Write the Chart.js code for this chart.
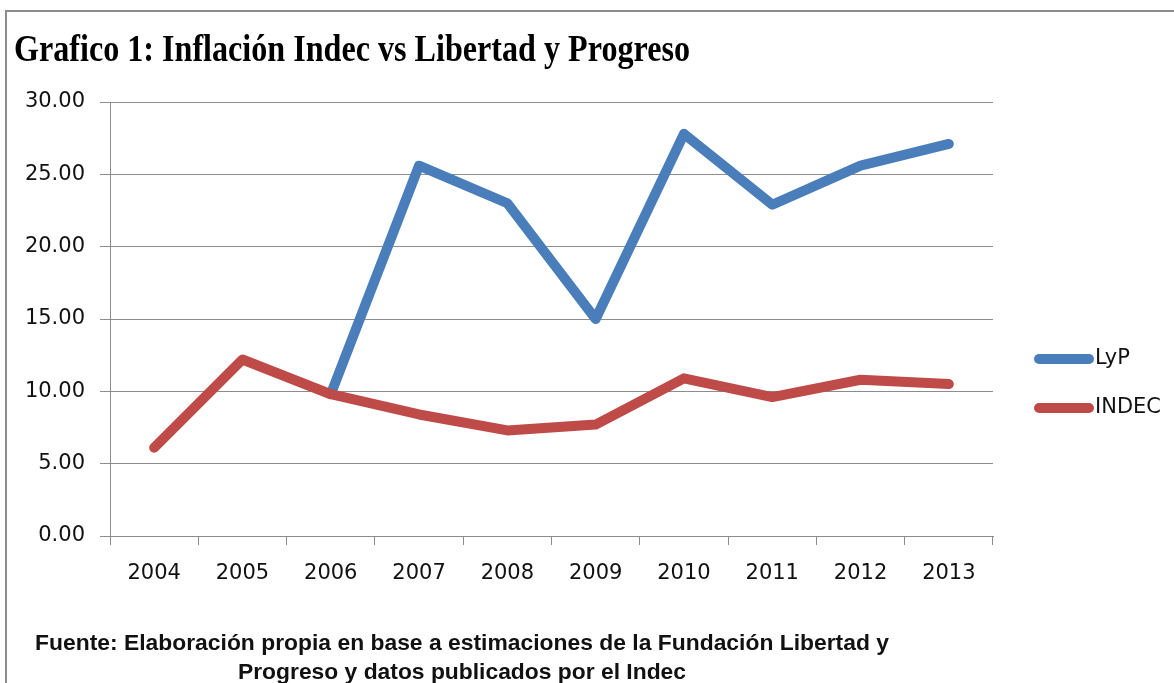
<!DOCTYPE html>
<html>
<head>
<meta charset="utf-8">
<script src="https://cdn.jsdelivr.net/npm/chart.js@4.4.1/dist/chart.umd.min.js"></script>
<style>
    body { margin: 0; background: #fff; width: 1174px; height: 683px; overflow: hidden; position: relative; }
    #marco { position: absolute; left: 5px; top: 10px; width: 1200px; height: 700px; border-left: 2px solid #8c8c8c; border-top: 2px solid #8c8c8c; }
    #GraficoInflacion { position: absolute; left: 0; top: 0; }
    .texto { position: absolute; white-space: nowrap; transform-origin: 0 0; line-height: 1; color: #000; }
    #titulo { left: 14px; top: 27px; font: bold 37px "Liberation Serif", serif; }
    .fuente { font: bold 22px "Liberation Sans", sans-serif; color: #111; }
    #fuente1 { left: 35px; top: 630px; }
    #fuente2 { left: 238px; top: 659px; }
</style>
</head>
<body>
<div id="marco"></div>
<canvas id="GraficoInflacion" width="1174" height="683"></canvas>
<div id="titulo" class="texto" data-ancho="676">Grafico 1: Inflación Indec vs Libertad y Progreso</div>
<div id="fuente1" class="texto fuente" data-ancho="854">Fuente: Elaboración propia en base a estimaciones de la Fundación Libertad y</div>
<div id="fuente2" class="texto fuente" data-ancho="448">Progreso y datos publicados por el Indec</div>

<script>
// datos
const anios = ['2004', '2005', '2006', '2007', '2008', '2009', '2010', '2011', '2012', '2013'];
const inflacionLyP = [null, null, 9.8, 25.6, 23.0, 15.0, 27.8, 22.9, 25.6, 27.1];
const inflacionIndec = [6.1, 12.2, 9.8, 8.4, 7.3, 7.7, 10.9, 9.6, 10.8, 10.5];
const ejeYMin = 0;
const ejeYMax = 30;
const ejeYPaso = 5;

const colorGrilla = '#8c8c8c';
const fuenteEjes = { family: 'DejaVu Sans', size: 21 };

// los textos del original estan comprimidos a lo ancho
document.querySelectorAll('.texto').forEach(function (el) {
    let ancho = el.getBoundingClientRect().width;
    el.style.transform = 'scaleX(' + (el.dataset.ancho / ancho) + ')';
});

// leyenda a la derecha, dibujada a mano como en Excel
const leyendaPlugin = {
    id: 'leyendaExcel',
    afterDraw(chart) {
        const ctx = chart.ctx;
        const area = chart.chartArea;
        let y = area.top + 257;
        ctx.save();
        chart.data.datasets.forEach(function (ds) {
            ctx.beginPath();
            ctx.lineCap = 'round';
            ctx.lineWidth = ds.borderWidth;
            ctx.strokeStyle = ds.borderColor;
            ctx.moveTo(area.right + 46, y);
            ctx.lineTo(area.right + 96, y);
            ctx.stroke();
            ctx.fillStyle = '#111';
            ctx.font = '21px "DejaVu Sans"';
            ctx.textBaseline = 'middle';
            ctx.fillText(ds.label, area.right + 102, y);
            y += 49;
        });
        ctx.restore();
    }
};

const ctx = document.getElementById('GraficoInflacion');
new Chart(ctx, {
    type: 'line',
    data: {
        labels: anios,
        datasets: [{
            label: 'LyP',
            data: inflacionLyP,
            borderColor: '#4a7ebb',
            backgroundColor: '#4a7ebb',
            borderWidth: 10,
            order: 1
        }, {
            label: 'INDEC',
            data: inflacionIndec,
            borderColor: '#be4b48',
            backgroundColor: '#be4b48',
            borderWidth: 10,
            order: 0
        }]
    },
    options: {
        responsive: false,
        animation: false,
        elements: {
            point: { radius: 0, hoverRadius: 0 },
            line: { tension: 0, borderCapStyle: 'round', borderJoinStyle: 'round' }
        },
        layout: {
            padding: { top: 102, right: 181, bottom: 87, left: 0 }
        },
        plugins: {
            legend: { display: false },
            tooltip: { enabled: false }
        },
        scales: {
            x: {
                offset: true,
                grid: {
                    offset: true,
                    drawOnChartArea: false,
                    color: colorGrilla,
                    tickLength: 9
                },
                border: { color: colorGrilla },
                ticks: { color: '#111', font: fuenteEjes, padding: 16, maxRotation: 0 },
                afterFit: function (escala) { escala.height = 60; }
            },
            y: {
                min: ejeYMin,
                max: ejeYMax,
                grid: { color: colorGrilla, tickLength: 10 },
                border: { color: colorGrilla },
                ticks: {
                    stepSize: ejeYPaso,
                    color: '#111',
                    font: fuenteEjes,
                    padding: 15,
                    callback: function (valor) { return valor.toFixed(2); }
                },
                afterFit: function (escala) { escala.width = 110; }
            }
        }
    },
    plugins: [leyendaPlugin]
});
</script>
</body>
</html>
